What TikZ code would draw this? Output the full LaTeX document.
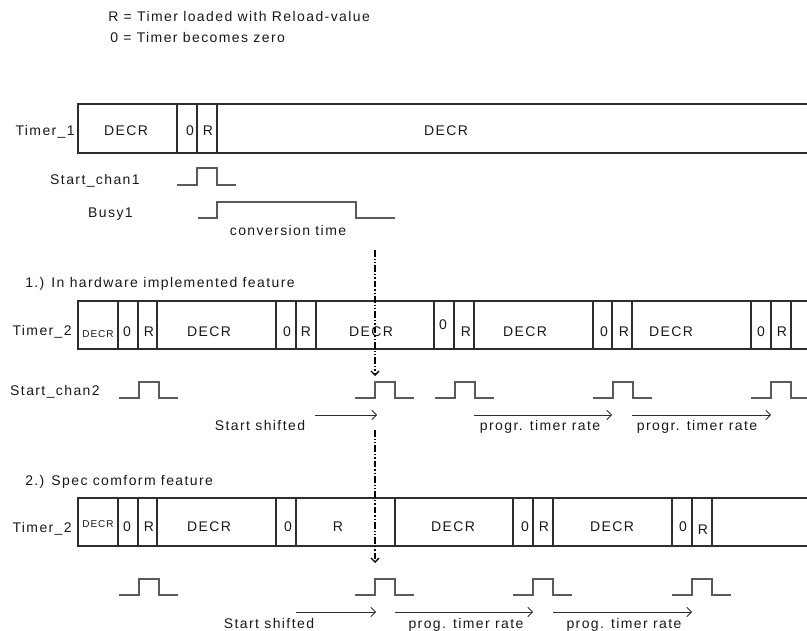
\documentclass[tikz,border=0pt]{standalone}
\usepackage{fontspec}
\setmainfont{Liberation Sans}[LetterSpace=10]
\usetikzlibrary{arrows.meta, positioning}
\definecolor{lineclr}{RGB}{45,45,45}
\definecolor{waveclr}{RGB}{90,90,90}
\definecolor{txtclr}{RGB}{25,25,25}
\tikzset{
  txt/.style={font=\fontsize{10.5}{12}\selectfont,text=txtclr,inner sep=0pt,anchor=base},
  smalltxt/.style={txt,font=\fontsize{7.5}{8}\selectfont},
  frame/.style={draw=lineclr,line width=0.8pt},
  wave/.style={draw=waveclr,line width=0.8pt},
  rate/.style={-{Straight Barb[length=3.5pt,width=7pt]},draw=lineclr,line width=0.6pt},
  marker/.style={-{Straight Barb[length=3pt,width=6pt]},draw=black,line width=1pt,
    dash pattern=on 5pt off 1.5pt on 1pt off 1.5pt on 1pt off 1.5pt}
}
% pulse: start x, low y, high y, end x
\newcommand{\pulse}[4]{\draw[wave] (#1,#2) -- ++(20,0) |- (#1+40,#3) |- (#4,#2);}

\begin{document}
\begin{tikzpicture}[x=0.75pt,y=-0.75pt]
  \useasboundingbox (0,0) rectangle (807,631);

  % ── Legend ────────────────────────────────────────────────────────────────
  \node[txt,anchor=base west] (legR) at (108,22) {R = Timer loaded with Reload-value};
  \node[txt,anchor=base west] (leg0) at (110,43) {0 = Timer becomes zero};

  % ── Timer_1 ───────────────────────────────────────────────────────────────
  \draw[frame] (807,104) -- (78,104) -- (78,153) -- (807,153);
  \foreach \d in {177,197,217} \draw[frame] (\d,104) -- (\d,153);
  \node[txt,anchor=base east] (tone) at (75,136) {Timer\_1};
  \foreach \x/\t [count=\i] in {126/DECR,190/0,208/R,446/DECR}
    \node[txt] (tonec\i) at (\x,136) {\t};

  \node[txt,anchor=base east] (sone) at (140,185) {Start\_chan1};
  \pulse{177}{185}{168}{236}
  \node[txt,anchor=base east] (busy) at (133,218) {Busy1};
  \draw[wave] (198,218) -| (217,202) -| (356,218) -- (395,218);
  \node[txt] (conv) at (288,236) {conversion time};

  % ── 1.) hardware feature ─────────────────────────────────────────────────
  \node[txt,anchor=base west] (hdr1) at (25,287) {1.) In hardware implemented feature};
  \draw[frame] (807,301) -- (78,301) -- (78,349) -- (807,349);
  \foreach \d in {118,138,157,276,296,316,434,454,474,593,612,632,751,771,791}
    \draw[frame] (\d,301) -- (\d,349);
  \node[txt,anchor=base east] (ttwoa) at (72,335) {Timer\_2};
  \node[smalltxt] (ttwoac0) at (98,337) {DECR};
  \foreach \x/\t [count=\i] in {127/0,149/R,209/DECR,287/0,306/R,371/DECR,466/R,
      525/DECR,604/0,624/R,671/DECR,761/0,782/R}
    \node[txt] (ttwoac\i) at (\x,336) {\t};
  \node[txt] (ttwoaz) at (443,329) {0};

  \node[txt,anchor=base east] (stwo) at (100,395) {Start\_chan2};
  \foreach \p in {119,355,435,593} {\pulse{\p}{398}{382}{\p+59}}
  \pulse{751}{398}{382}{807}

  \coordinate (sha) at (315,415); \coordinate (shb) at (377,415);
  \draw[rate] (sha) -- (shb);
  \node[txt] (shlbla) at (260,430) {Start shifted};
  \coordinate (raa) at (474,415); \coordinate (rab) at (612,415);
  \coordinate (rac) at (632,415); \coordinate (rad) at (771,415);
  \draw[rate] (raa) -- (rab);
  \draw[rate] (rac) -- (rad);
  \node[txt] (ratea) at (540,430) {progr. timer rate};
  \node[txt] (rateb) at (697,430) {progr. timer rate};

  % ── 2.) spec conform feature ─────────────────────────────────────────────
  \node[txt,anchor=base west] (hdr2) at (25,485) {2.) Spec comform feature};
  \draw[frame] (807,498) -- (78,498) -- (78,546) -- (807,546);
  \foreach \d in {118,138,157,276,296,395,513,533,553,672,692,712}
    \draw[frame] (\d,498) -- (\d,546);
  \node[txt,anchor=base east] (ttwob) at (72,532) {Timer\_2};
  \node[smalltxt] (ttwobc0) at (98,527) {DECR};
  \foreach \x/\t [count=\i] in {127/0,149/R,209/DECR,288/0,338/R,453/DECR,
      525/0,544/R,612/DECR,683/0}
    \node[txt] (ttwobc\i) at (\x,531) {\t};
  \node[txt] (ttwobr) at (703,534) {R};

  \foreach \p in {119,355,513,672} {\pulse{\p}{595}{579}{\p+59}}

  \coordinate (shc) at (296,612); \coordinate (shd) at (376,612);
  \draw[rate] (shc) -- (shd);
  \node[txt] (shlblb) at (269,628) {Start shifted};
  \coordinate (rba) at (395,612); \coordinate (rbb) at (533,612);
  \coordinate (rbc) at (553,612); \coordinate (rbd) at (692,612);
  \draw[rate] (rba) -- (rbb);
  \draw[rate] (rbc) -- (rbd);
  \node[txt] (ratec) at (466,628) {prog. timer rate};
  \node[txt] (rated) at (624,628) {prog. timer rate};

  % ── start marker ─────────────────────────────────────────────────────────
  \coordinate (mka) at (375,250); \coordinate (mkb) at (375,376);
  \coordinate (mkc) at (375,430); \coordinate (mkd) at (375,563);
  \draw[marker] (mka) -- (mkb);
  \draw[marker] (mkc) -- (mkd);
\end{tikzpicture}
\end{document}
